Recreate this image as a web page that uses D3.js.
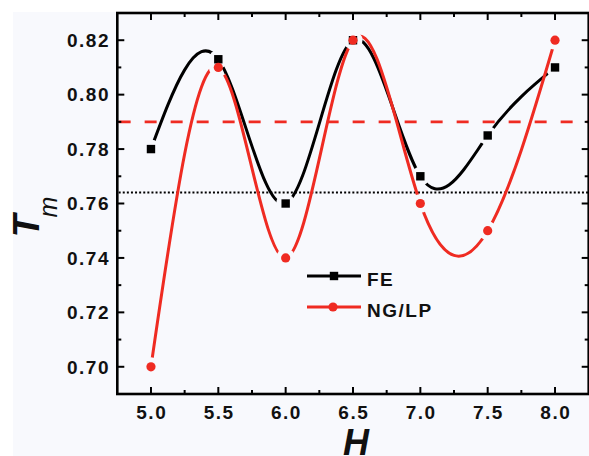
<!DOCTYPE html>
<html>
<head>
<meta charset="utf-8">
<script src="https://cdn.jsdelivr.net/npm/d3@7"></script>
<style>
  html, body { margin: 0; padding: 0; background: #ffffff; }
  svg { display: block; }
  text { font-family: "Liberation Sans", Arial, sans-serif; }
</style>
</head>
<body>
<svg id="chart" width="589" height="456"></svg>
<script>
// Thickness ratio H on the x axis
const hValues = [5.0, 5.5, 6.0, 6.5, 7.0, 7.5, 8.0];
// Tm for each method
const feValues = [0.780, 0.813, 0.760, 0.820, 0.770, 0.785, 0.810];
const nglpValues = [0.700, 0.810, 0.740, 0.820, 0.760, 0.750, 0.820];
// Reference levels
const redLevel = 0.790;
const blackLevel = 0.764;
// Tick labels
const xTicks = [5.0, 5.5, 6.0, 6.5, 7.0, 7.5, 8.0];
const yTicks = [0.70, 0.72, 0.74, 0.76, 0.78, 0.80, 0.82];
const seriesNames = ["FE", "NG/LP"];

const RED = "#ef2b22";
const svg = d3.select("#chart");

// light panel behind the figure
svg.append("rect").attr("x", 13).attr("y", 12).attr("width", 576).attr("height", 444)
  .attr("fill", "#f8f9fd");

const x = d3.scaleLinear().domain([4.75, 8.25]).range([117.3, 588.7]);
const y = d3.scaleLinear().domain([0.69, 0.83]).range([394, 13]);

const [x0, x1] = x.range();
const [yb, yt] = y.range();

// gap masks around each series' markers
const defs = svg.append("defs");
function makeMask(id, vals) {
  const m = defs.append("mask").attr("id", id).attr("maskUnits", "userSpaceOnUse")
    .attr("x", 0).attr("y", 0).attr("width", 589).attr("height", 456);
  m.append("rect").attr("width", 589).attr("height", 456).attr("fill", "#fff");
  m.selectAll("circle").data(hValues).join("circle")
    .attr("cx", d => x(d)).attr("cy", (d, i) => y(vals[i])).attr("r", 9.5).attr("fill", "#000");
}
makeMask("gapFE", feValues);
makeMask("gapNG", nglpValues);

svg.append("clipPath").attr("id", "plotClip").append("rect")
  .attr("x", x0).attr("y", yt).attr("width", x1 - x0).attr("height", yb - yt);

const plot = svg.append("g").attr("clip-path", "url(#plotClip)");

// reference lines
plot.append("line")
  .attr("x1", x(4.76)).attr("x2", x1).attr("y1", y(redLevel)).attr("y2", y(redLevel))
  .attr("stroke", RED).attr("stroke-width", 2.6).attr("stroke-dasharray", "12,14");
plot.append("line")
  .attr("x1", x(4.76)).attr("x2", x1).attr("y1", y(blackLevel)).attr("y2", y(blackLevel))
  .attr("stroke", "#000").attr("stroke-width", 2).attr("stroke-dasharray", "2,2.1");

const line = d3.line().x(d => x(d[0])).y(d => y(d[1])).curve(d3.curveNatural);

plot.append("path")
  .attr("d", line(hValues.map((h, i) => [h, feValues[i]])))
  .attr("fill", "none").attr("stroke", "#000").attr("stroke-width", 3)
  .attr("mask", "url(#gapFE)");
plot.append("path")
  .attr("d", line(hValues.map((h, i) => [h, nglpValues[i]])))
  .attr("fill", "none").attr("stroke", RED).attr("stroke-width", 3)
  .attr("mask", "url(#gapNG)");

// markers
plot.selectAll("rect.fe").data(hValues).join("rect").attr("class", "fe")
  .attr("x", d => x(d) - 4.2).attr("y", (d, i) => y(feValues[i]) - 4.2)
  .attr("width", 8.4).attr("height", 8.4).attr("fill", "#000");
plot.selectAll("circle.ng").data(hValues).join("circle").attr("class", "ng")
  .attr("cx", d => x(d)).attr("cy", (d, i) => y(nglpValues[i])).attr("r", 4.6).attr("fill", RED);

// ticks on all four sides, pointing inward
const xMinor = d3.range(4.75, 8.2501, 0.25).filter(v => v > 4.76 && v < 8.24);
const yMinor = d3.range(0.69, 0.8301, 0.01).filter(v => v > 0.691 && v < 0.829);
const ticksG = svg.append("g").attr("stroke", "#000").attr("stroke-width", 2);
xMinor.forEach(v => {
  const major = Math.abs(v * 2 - Math.round(v * 2)) < 1e-6;
  const len = major ? 7 : 4;
  ticksG.append("line").attr("x1", x(v)).attr("x2", x(v)).attr("y1", yb).attr("y2", yb - len);
  ticksG.append("line").attr("x1", x(v)).attr("x2", x(v)).attr("y1", yt).attr("y2", yt + len);
});
yMinor.forEach(v => {
  const major = Math.abs(v * 50 - Math.round(v * 50)) < 1e-6;
  const len = major ? 7 : 4;
  ticksG.append("line").attr("y1", y(v)).attr("y2", y(v)).attr("x1", x0).attr("x2", x0 + len);
  ticksG.append("line").attr("y1", y(v)).attr("y2", y(v)).attr("x1", x1).attr("x2", x1 - len);
});

// frame
svg.append("rect").attr("x", x0).attr("y", yt).attr("width", x1 - x0).attr("height", yb - yt)
  .attr("fill", "none").attr("stroke", "#000").attr("stroke-width", 2.6);

// tick labels
svg.selectAll("text.xt").data(xTicks).join("text").attr("class", "xt")
  .attr("x", d => x(d) + 0.8).attr("y", 419)
  .attr("text-anchor", "middle").attr("font-size", 19).attr("font-weight", "bold")
  .attr("letter-spacing", 1.5).attr("fill", "#111")
  .text(d => d3.format(".1f")(d));
svg.selectAll("text.yt").data(yTicks).join("text").attr("class", "yt")
  .attr("x", 110).attr("y", d => y(d)).attr("dy", "0.36em")
  .attr("text-anchor", "end").attr("font-size", 19).attr("font-weight", "bold")
  .attr("letter-spacing", 1.5).attr("fill", "#111")
  .text(d => d3.format(".2f")(d));

// axis titles
svg.append("text").attr("x", 356).attr("y", 455).attr("text-anchor", "middle")
  .attr("font-size", 36).attr("font-weight", "bold").attr("font-style", "italic")
  .attr("fill", "#111").text("H");
svg.append("text").attr("transform", "translate(39,226) rotate(-90)")
  .attr("text-anchor", "middle").attr("font-size", 37).attr("font-weight", "bold")
  .attr("font-style", "italic").attr("fill", "#111").text("T");
svg.append("text").attr("transform", "translate(57,207) rotate(-90)")
  .attr("text-anchor", "middle").attr("font-size", 25).attr("font-style", "italic")
  .attr("fill", "#111").text("m");

// legend
const legendRows = [
  { name: seriesNames[0], color: "#000", shape: "square", y: 276 },
  { name: seriesNames[1], color: RED, shape: "circle", y: 307 }
];
legendRows.forEach(r => {
  const g = svg.append("g");
  g.append("line").attr("x1", 307).attr("x2", 361).attr("y1", r.y).attr("y2", r.y)
    .attr("stroke", r.color).attr("stroke-width", 3);
  if (r.shape === "square") {
    g.append("rect").attr("x", 334 - 4.2).attr("y", r.y - 4.2).attr("width", 8.4).attr("height", 8.4)
      .attr("fill", r.color);
  } else {
    g.append("circle").attr("cx", 333).attr("cy", r.y).attr("r", 4.6).attr("fill", r.color);
  }
  g.append("text").attr("x", 367).attr("y", r.y + 10).attr("font-size", 19)
    .attr("font-weight", "bold").attr("letter-spacing", 1.5).attr("fill", "#111").text(r.name);
});
</script>
</body>
</html>
